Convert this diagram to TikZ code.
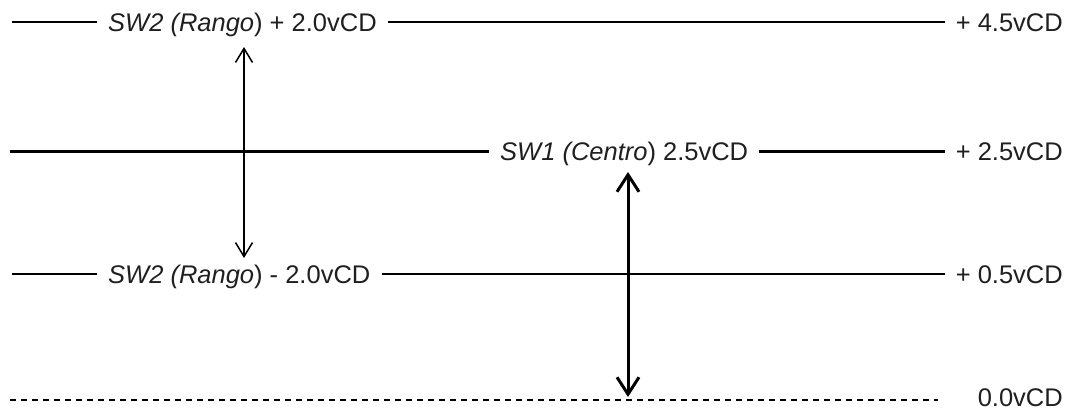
\documentclass[tikz,border=0pt]{standalone}
\usepackage{fontspec}
\setmainfont{Liberation Sans}
\usetikzlibrary{arrows.meta}
\begin{document}
\begin{tikzpicture}[x=1pt,y=-1pt,
  txt/.style={font=\fontsize{25.5}{30}\selectfont, text=black!88, inner xsep=11pt, inner ysep=0pt},
  lbl/.style={txt, anchor=base west},
  rlbl/.style={txt, inner xsep=0pt, anchor=base east},
  thinline/.style={line width=1.6pt},
  thickline/.style={line width=3pt},
  dashline/.style={line width=1.2pt, dash pattern=on 6pt off 5pt},
  arrthin/.style={line width=1.5pt, {Straight Barb[length=14pt,width=17pt]}-{Straight Barb[length=14pt,width=17pt]}},
  arrthick/.style={line width=3pt, {Straight Barb[length=17pt,width=22pt]}-{Straight Barb[length=17pt,width=22pt]}}
]
\useasboundingbox (0,0) rectangle (1068,418);

% top line (+4.5)
\coordinate (l1) at (12,22);
\coordinate (e1) at (945,22);
\node[lbl] (t1) at (97,31.1) {\textit{SW2 (Rango})\ + 2.0vCD};
\node[rlbl] (r1) at (1063,31.1) {+ 4.5vCD};
\draw[thinline] (l1) -- (l1 -| t1.west);
\draw[thinline] (l1 -| t1.east) -- (e1);

% middle line (+2.5)
\coordinate (l2) at (10,151);
\coordinate (e2) at (945,151);
\node[lbl] (t2) at (489,160.1) {\textit{SW1 (Centro})\ 2.5vCD};
\node[rlbl] (r2) at (1063,160.1) {+ 2.5vCD};
\draw[thickline] (l2) -- (l2 -| t2.west);
\draw[thickline] (l2 -| t2.east) -- (e2);

% lower line (+0.5)
\coordinate (l3) at (12,274);
\coordinate (e3) at (945,274);
\node[lbl] (t3) at (97,283.1) {\textit{SW2 (Rango})\ - 2.0vCD};
\node[rlbl] (r3) at (1063,283.1) {+ 0.5vCD};
\draw[thinline] (l3) -- (l3 -| t3.west);
\draw[thinline] (l3 -| t3.east) -- (e3);

% zero line
\coordinate (l4) at (10,400);
\coordinate (e4) at (938,400);
\node[rlbl] (r4) at (1063,406.5) {0.0vCD};
\draw[dashline] (l4) -- (e4);

% arrows
\coordinate (a1t) at (244,47);
\coordinate (a1b) at (244,258);
\draw[arrthin] (a1t) -- (a1b);
\coordinate (a2t) at (628,172);
\coordinate (a2b) at (628,397);
\draw[arrthick] (a2t) -- (a2b);
\end{tikzpicture}
\end{document}
